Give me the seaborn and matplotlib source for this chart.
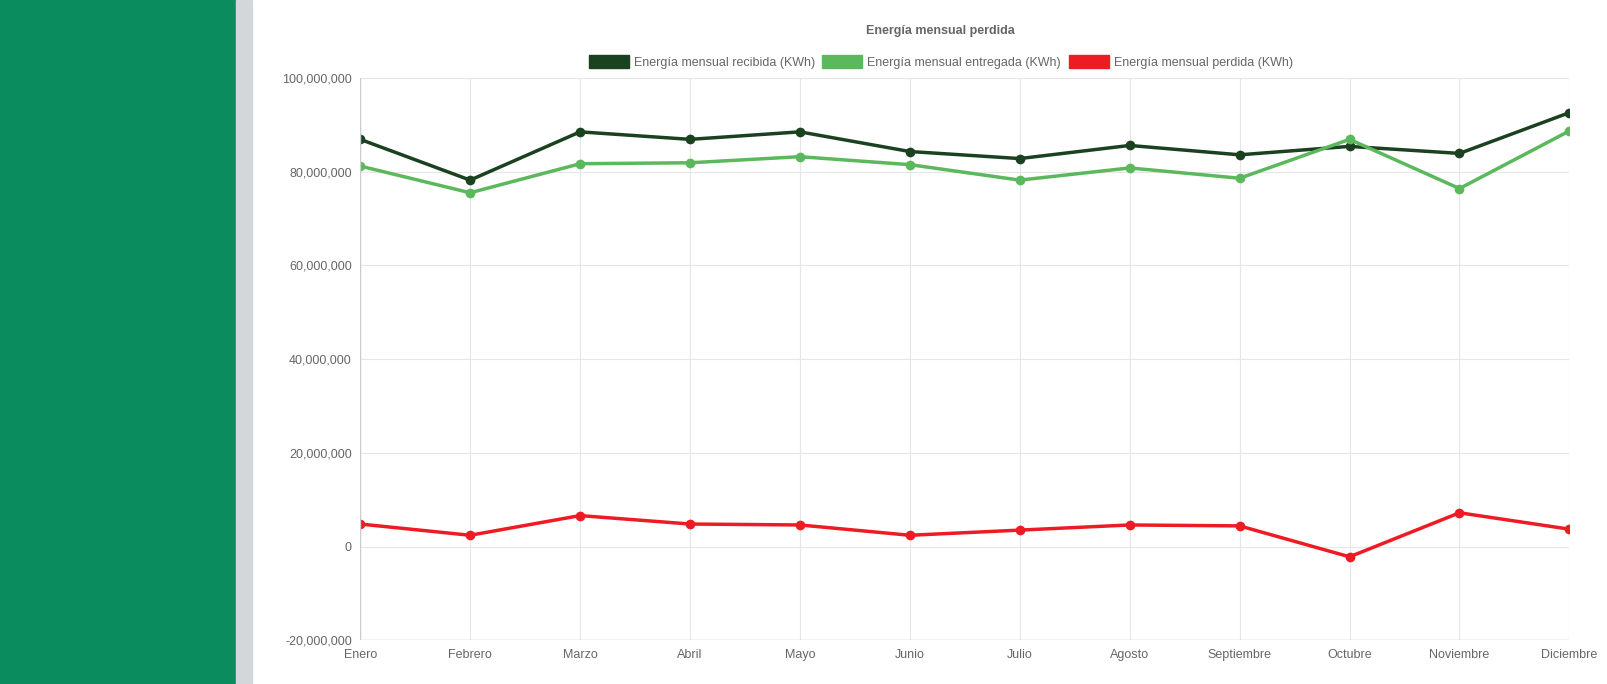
import matplotlib
matplotlib.use("Agg")
import matplotlib.pyplot as plt
import matplotlib.patches as mpatches
import matplotlib.ticker as mticker
import pandas as pd
import seaborn as sns

months = ["Enero", "Febrero", "Marzo", "Abril", "Mayo", "Junio", "Julio",
          "Agosto", "Septiembre", "Octubre", "Noviembre", "Diciembre"]
recibida = [86.9, 78.2, 88.5, 86.9, 88.5, 84.3, 82.8, 85.6, 83.6, 85.4, 83.9, 92.6]
entregada = [81.2, 75.5, 81.7, 81.9, 83.2, 81.5, 78.2, 80.8, 78.6, 86.9, 76.4, 88.7]
perdida = [4.8, 2.4, 6.6, 4.8, 4.6, 2.4, 3.5, 4.6, 4.4, -2.2, 7.2, 3.7]

names = ["Energía mensual recibida (KWh)", "Energía mensual entregada (KWh)",
         "Energía mensual perdida (KWh)"]
colors = ["#1b4220", "#5cb85c", "#ed1c24"]

rows = []
for name, vals in zip(names, [recibida, entregada, perdida]):
    for i, v in enumerate(vals):
        rows.append({"x": i, "valor": v * 1e6, "serie": name})
df = pd.DataFrame(rows)

sns.set_style("white")
plt.rcParams["font.family"] = ["Liberation Sans", "DejaVu Sans"]

fig = plt.figure(figsize=(16.08, 6.84), dpi=100)
fig.patches.append(mpatches.Rectangle((0, 0), 0.147, 1, transform=fig.transFigure,
                                      color="#0b8c5f", zorder=-2))
fig.patches.append(mpatches.Rectangle((0.147, 0), 0.01, 1, transform=fig.transFigure,
                                      color="#d4d7d9", zorder=-2))
ax = fig.add_axes([0.224, 0.064, 0.752, 0.822])

sns.lineplot(data=df, x="x", y="valor", hue="serie", palette=colors, marker="o",
             markersize=7, markeredgewidth=0, linewidth=2.5, ax=ax, legend=False)

ax.set_xlim(0, 11)
ax.set_ylim(-20e6, 100e6)
ax.set_xticks(range(12))
ax.set_xticklabels(months)
ax.yaxis.set_major_locator(mticker.MultipleLocator(20e6))
ax.yaxis.set_major_formatter(mticker.FuncFormatter(lambda v, p: f"{int(v):,}"))
ax.tick_params(colors="#666666", labelsize=9, length=0, pad=6)
ax.grid(True, color="#e6e6e6", linewidth=0.8)
for s in ax.spines.values():
    s.set_visible(False)
ax.axhline(-20e6, color="#cccccc", linewidth=1)
ax.axvline(0, color="#cccccc", linewidth=1)
ax.set_xlabel("")
ax.set_ylabel("")

handles = [mpatches.Patch(color=c, label=n) for c, n in zip(colors, names)]
fig.legend(handles=handles, loc="center", bbox_to_anchor=(0.585, 0.909), ncol=3,
           frameon=False, fontsize=9, labelcolor="#666666", handlelength=3.2,
           handleheight=1.2, columnspacing=0.6, handletextpad=0.4)
fig.text(0.585, 0.955, "Energía mensual perdida", ha="center", va="center",
         fontsize=9, fontweight="bold", color="#666666")

fig.savefig("out.png", dpi=100)
